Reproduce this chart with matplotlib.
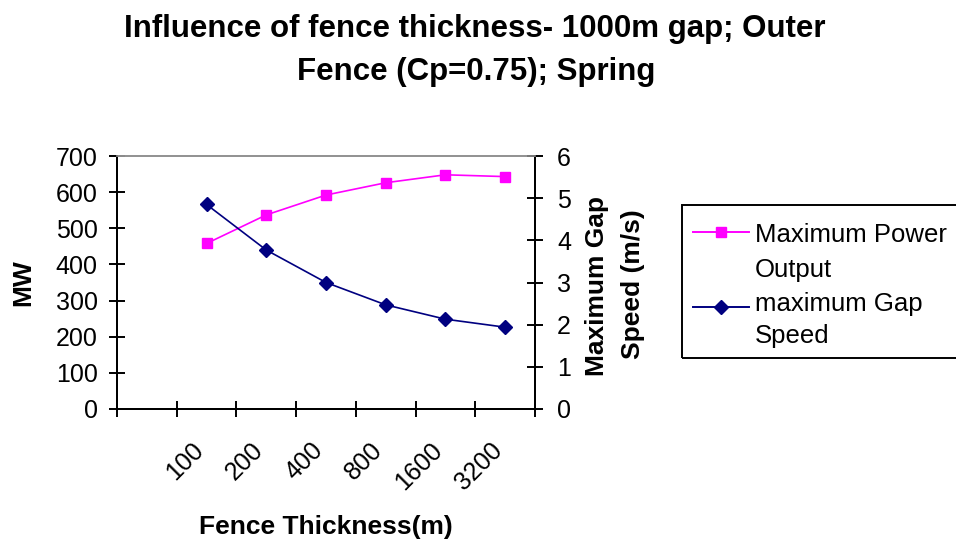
import matplotlib
matplotlib.use("Agg")
import matplotlib.pyplot as plt
import matplotlib.transforms as mtransforms
from matplotlib.lines import Line2D
from matplotlib.patches import Rectangle
import numpy as np

plt.rcParams["font.family"] = ["Liberation Sans", "DejaVu Sans"]

# data
thickness = ["100", "200", "400", "800", "1600", "3200"]
power_mw = [458, 537, 592, 626, 648, 643]
gap_speed = [4.85, 3.77, 3.00, 2.47, 2.13, 1.94]

PINK = "#FF00FF"
NAVY = "#000080"

fig = plt.figure(figsize=(9.56, 5.40), dpi=100)
fig.patch.set_facecolor("white")


def fx(px):
    return px / 956


def fy(px):
    return 1 - px / 540


ax = fig.add_axes([fx(117), fy(409), 418 / 956, 253 / 540])
ax2 = ax.twinx()

# one empty category slot before the first thickness
pos = np.arange(1, len(thickness) + 1)

ax.plot(pos, power_mw, color=PINK, lw=1.2, marker="s", ms=7.5,
        mfc=PINK, mec=PINK, zorder=3)
ax2.plot(pos, gap_speed, color=NAVY, lw=1.2, marker="D", ms=7.5,
         mfc=NAVY, mec=NAVY, zorder=3)

ax.set_xlim(-0.5, len(thickness) + 0.5)
ax.set_ylim(0, 700)
ax2.set_ylim(0, 6)

ax.set_xticks(np.arange(-0.5, len(thickness) + 1, 1.0))
ax.set_xticklabels([])
ax.set_xticks(pos, minor=True)
ax.set_xticklabels(thickness, minor=True, rotation=45, ha="right",
                   va="center", rotation_mode="anchor", fontsize=18)
ax.tick_params(axis="x", which="minor", length=0, pad=27)
ax.tick_params(axis="x", which="major", direction="inout", length=12,
               width=1.4, color="black")
shift = mtransforms.ScaledTranslation(-7 / 100, 0, fig.dpi_scale_trans)
for lab in ax.get_xticklabels(minor=True):
    lab.set_transform(lab.get_transform() + shift)

ax.set_yticks(np.arange(0, 701, 100))
ax.tick_params(axis="y", direction="inout", length=12, width=1.4,
               labelsize=18, pad=8)
ax2.set_yticks(np.arange(0, 7, 1))
ax2.tick_params(axis="y", direction="inout", length=12, width=1.4,
                labelsize=18, pad=10)

for a in (ax, ax2):
    a.spines["top"].set_color("#909090")
    a.spines["top"].set_linewidth(1.2)
    for s in ("left", "right", "bottom"):
        a.spines[s].set_linewidth(1.4)
        a.spines[s].set_color("black")

fig.text(fx(23), fy(283), "MW", rotation=90, fontsize=19,
         fontweight="bold", ha="center", va="center")
fig.text(fx(597), fy(286), "Maximum Gap", rotation=90, fontsize=19,
         fontweight="bold", ha="center", va="center")
fig.text(fx(633), fy(284), "Speed (m/s)", rotation=90, fontsize=19,
         fontweight="bold", ha="center", va="center")
fig.text(fx(326), fy(527), "Fence Thickness(m)", fontsize=19,
         fontweight="bold", ha="center", va="center")

# title, two centred lines
fig.text(fx(475), fy(29),
         "Influence of fence thickness- 1000m gap; Outer", fontsize=22.5,
         fontweight="bold", ha="center", va="center")
fig.text(fx(476), fy(72), "Fence (Cp=0.75); Spring", fontsize=22.5,
         fontweight="bold", ha="center", va="center")

# legend box (runs off the right edge as in the reference)
fig.add_artist(Rectangle((fx(682), fy(358)), 300 / 956, 153 / 540,
                         transform=fig.transFigure, fill=False,
                         edgecolor="black", lw=1.4))
entries = [(PINK, "s", 7.5, ["Maximum Power", "Output"], 232, [242, 277]),
           (NAVY, "D", 7.5, ["maximum Gap", "Speed"], 307, [311, 343])]
for color, mk, ms, lines, ypx, baselines in entries:
    fig.add_artist(Line2D([fx(693), fx(749)], [fy(ypx), fy(ypx)],
                          color=color, lw=1.4, transform=fig.transFigure))
    fig.add_artist(Line2D([fx(721)], [fy(ypx)], color=color, marker=mk,
                          ms=ms, mfc=color, mec=color,
                          transform=fig.transFigure))
    for txt, bl in zip(lines, baselines):
        fig.text(fx(755), fy(bl), txt, fontsize=18.5, ha="left",
                 va="baseline")

fig.savefig("out.png", dpi=100)
